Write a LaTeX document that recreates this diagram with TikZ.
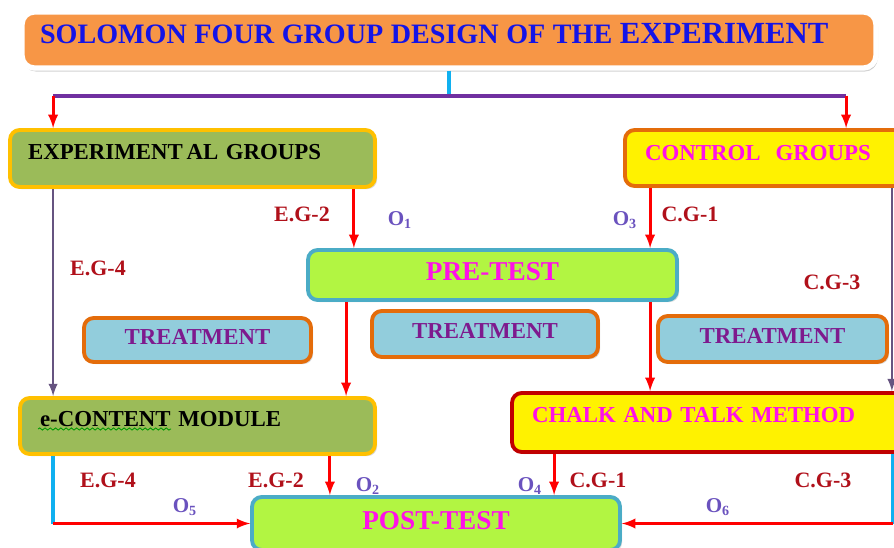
\documentclass[tikz,border=0pt]{standalone}
\usepackage{fontspec}
\setmainfont{Liberation Serif}
\usetikzlibrary{arrows, positioning, calc, shadows, decorations.pathmorphing}

\definecolor{titlefill}{HTML}{F79646}
\definecolor{titletext}{HTML}{1414E6}
\definecolor{olive}{HTML}{9BBB59}
\definecolor{gold}{HTML}{FFC000}
\definecolor{darkorange}{HTML}{E46C0A}
\definecolor{chalkred}{HTML}{C00000}
\definecolor{lime}{HTML}{B2F542}
\definecolor{teal}{HTML}{4BACC6}
\definecolor{aqua}{HTML}{92CDDC}
\definecolor{treattext}{HTML}{7E1A8E}
\definecolor{pink}{HTML}{FF10E8}
\definecolor{labred}{HTML}{B0101A}
\definecolor{obsblue}{HTML}{6A52BE}
\definecolor{violet}{HTML}{7030A0}
\definecolor{greyviolet}{HTML}{665480}
\definecolor{skyblue}{HTML}{10B0F0}

\begin{document}
\begin{tikzpicture}[x=0.02cm, y=-0.02cm,
    box/.style={rectangle, rounded corners=5.5pt, line width=2.2pt, inner ysep=0pt,
        font=\bfseries\fontsize{13}{15}\selectfont,
        drop shadow={shadow xshift=1.2pt, shadow yshift=-1.2pt, opacity=0.3}},
    lift/.style={text height=0.66em, text depth=#1},
    grp/.style={box, fill=olive, draw=gold, align=left},
    test/.style={box, fill=lime, draw=teal, text=pink, font=\bfseries\fontsize{15.5}{17}\selectfont},
    treat/.style={box, fill=aqua, draw=darkorange, text=treattext, lift=1pt},
    tag/.style={text=labred, font=\bfseries\fontsize{12.5}{14}\selectfont},
    obs/.style={text=obsblue, font=\bfseries\fontsize{12}{14}\selectfont},
    redarr/.style={draw=red, line width=1.6pt, -latex},
    violarr/.style={draw=greyviolet, line width=1.4pt, -latex}]
    \clip (0,0) rectangle (894,548);
    % boxes
    \node[box, fill=titlefill, draw=white, line width=3pt, text=titletext, lift=2.5pt,
        rounded corners=7pt, drop shadow={shadow xshift=0.8pt, shadow yshift=-2pt, opacity=0.35},
        minimum width=17.08cm, minimum height=1.12cm, inner xsep=0.36cm, text width=16.36cm,
        align=left] (title) at (449,40)
        {\fontsize{16}{18}\selectfont SOLOMON FOUR GROUP DESIGN OF THE \fontsize{17.5}{18}\selectfont EXPERIMENT};
    \node[grp, lift=5pt, minimum height=1.14cm, inner xsep=0.36cm, text width=6.58cm] (eg) at (192.5,158.5)
        {EXPERIMENT\,AL GROUPS};
    \node[box, fill=yellow, draw=darkorange, text=pink, lift=3.6pt, align=left,
        minimum height=1.12cm, inner xsep=0.4cm, text width=4.8cm] (cg) at (765,158)
        {CONTROL\ \ GROUPS};
    \node[test, lift=0pt, minimum width=7.38cm, minimum height=1.0cm] (pre) at (492.5,275) {PRE-TEST};
    \node[treat, minimum width=4.54cm, minimum height=0.88cm] (tra) at (197.5,340) {TREATMENT};
    \node[treat, minimum width=4.52cm, minimum height=0.92cm] (trb) at (485,334) {TREATMENT};
    \node[treat, minimum width=4.58cm, minimum height=0.92cm] (trc) at (772.5,339) {TREATMENT};
    \node[grp, lift=5.6pt, minimum height=1.12cm, inner xsep=0.4cm, text width=6.3cm] (eco) at (197.5,426)
        {e-CONTENT MODULE};
    \node[box, fill=yellow, draw=chalkred, text=pink, lift=6.7pt, align=left,
        minimum height=1.18cm, inner xsep=0.4cm, text width=7.06cm] (chalk) at (708.5,422.5)
        {CHALK AND TALK METHOD};
    \node[test, lift=0pt, minimum width=7.36cm, minimum height=1.06cm] (post) at (436,523.5) {POST-TEST};
    % spelling squiggle
    \draw[green!60!black, line width=0.5pt, decorate, decoration={snake, amplitude=0.6pt, segment length=3pt}]
        ($(eco.west)+(20,3)$) -- ++(133,0);

    % top split
    \draw[skyblue, line width=2pt] (title.south) -- ++(0,25) coordinate (hub);
    \coordinate (egtop) at ($(eg.north west)+(45,0)$);
    \coordinate (cgtop) at ($(cg.north west)+(223,0)$);
    \draw[violet, line width=2.2pt] (egtop |- hub) -- (cgtop |- hub);
    \draw[redarr] (egtop |- hub) -- (egtop);
    \draw[redarr] (cgtop |- hub) -- (cgtop);

    % groups to pre-test and treatments
    \draw[violarr] ($(eg.south west)+(45,0)$) coordinate (egl) -- (egl |- eco.north);
    \draw[redarr] ($(eg.south east)+(-23,0)$) coordinate (eg2) -- (eg2 |- pre.north);
    \draw[redarr] ($(cg.south west)+(27,0)$) coordinate (cg1) -- (cg1 |- pre.north);
    \draw[violarr] ($(cg.south east)+(-15,0)$) coordinate (cg3) -- (cg3 |- chalk.north);
    \draw[redarr] ($(pre.south west)+(40,0)$) coordinate (pe) -- (pe |- eco.north);
    \draw[redarr] ($(pre.south west)+(344,0)$) coordinate (pc) -- (pc |- chalk.north);

    % to post-test
    \draw[skyblue, line width=2pt] ($(eco.south west)+(35,0)$) coordinate (e4) -- (e4 |- post.west) coordinate (e4b);
    \draw[redarr] (e4b) -- (post.west);
    \draw[redarr] ($(eco.south east)+(-47,0)$) coordinate (e2) -- (e2 |- post.north);
    \draw[redarr] ($(chalk.south west)+(44,0)$) coordinate (c1) -- (c1 |- post.north);
    \draw[skyblue, line width=2pt] ($(chalk.south east)+(-14,0)$) coordinate (c3) -- (c3 |- post.east) coordinate (c3b);
    \draw[redarr] (c3b) -- (post.east);

    % labels
    \node[tag] (t1) at (302,214) {E.G-2};
    \node[obs] (o1) at (400,220) {O\textsubscript{1}};
    \node[obs] (o3) at (625,220) {O\textsubscript{3}};
    \node[tag] (t2) at (690,214) {C.G-1};
    \node[tag] (t3) at (98,268) {E.G-4};
    \node[tag] (t4) at (832,282) {C.G-3};
    \node[tag] (t5) at (108,480) {E.G-4};
    \node[tag] (t6) at (276,480) {E.G-2};
    \node[obs] (o2) at (368,486) {O\textsubscript{2}};
    \node[obs] (o4) at (530,486) {O\textsubscript{4}};
    \node[tag] (t7) at (598,480) {C.G-1};
    \node[tag] (t8) at (823,480) {C.G-3};
    \node[obs] (o5) at (185,507) {O\textsubscript{5}};
    \node[obs] (o6) at (718,507) {O\textsubscript{6}};
\end{tikzpicture}
\end{document}
